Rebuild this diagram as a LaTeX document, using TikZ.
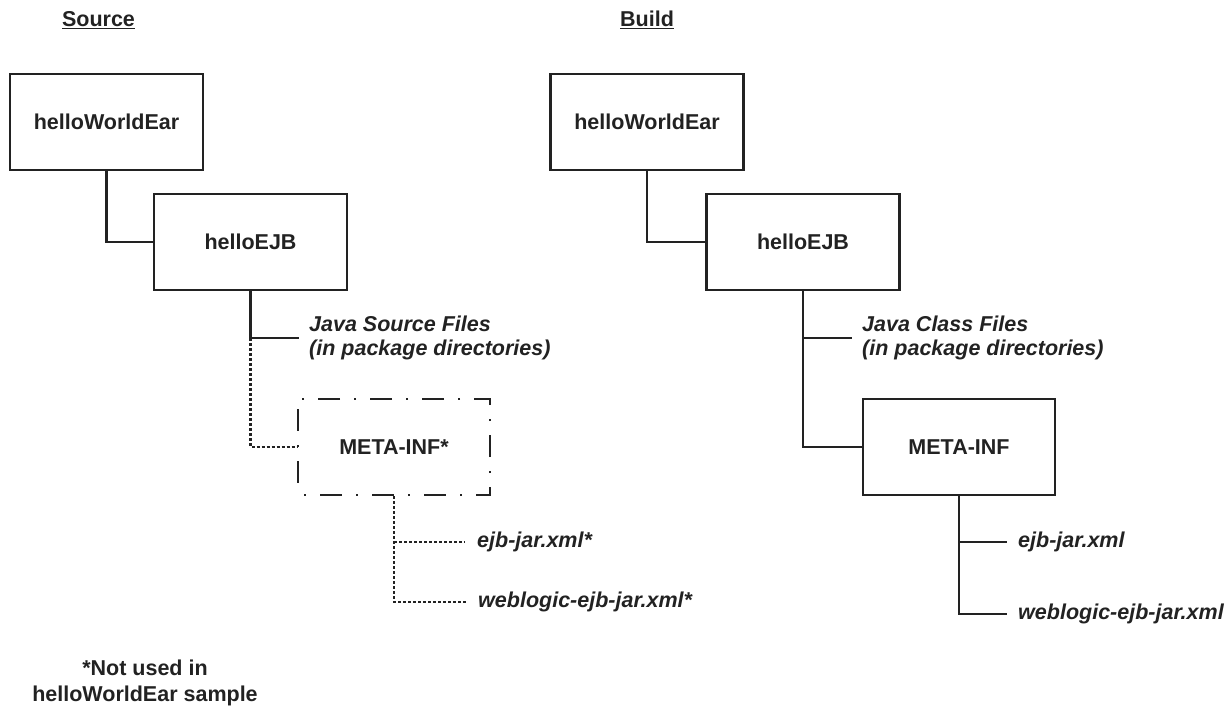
\documentclass[tikz,border=0pt]{standalone}
\usepackage{fontspec}
\setmainfont{Liberation Sans}
\definecolor{ink}{HTML}{222222}
\begin{document}
\begin{tikzpicture}[x=1pt,y=-1pt,
  every node/.style={text=ink,font=\fontsize{21.5}{24}\selectfont\bfseries},
  folder/.style={draw=ink,line width=2.8pt,rectangle,minimum width=193pt,minimum height=96pt,inner sep=0pt},
  dashfolder/.style={draw=ink,line width=2.8pt,rectangle,minimum width=192pt,minimum height=96pt,inner sep=0pt,
     dash pattern=on 22pt off 14pt on 2pt off 14pt, dash phase=30pt},
  leaf/.style={inner sep=0pt,anchor=west,align=left,font=\fontsize{21.5}{24}\selectfont\bfseries\itshape},
  link/.style={draw=ink,line width=2.6pt},
  dotlink/.style={draw=ink,line width=2.6pt,dash pattern=on 3pt off 2pt},
  title/.style={inner sep=0pt,font=\fontsize{21.5}{24}\selectfont\bfseries}
]
\useasboundingbox (0,0) rectangle (1228,706);

% titles
\node[title] (tsrc) at (98.5,20) {\underline{Source}};
\node[title] (tbld) at (647,20) {\underline{Build}};

% source tree
\node[folder] (swe) at (106.5,122) {helloWorldEar};
\node[folder] (sejb) at (250.5,242) {helloEJB};
\node[dashfolder] (smeta) at (394,447) {META-INF*};
\node[leaf] (sjava) at (309,338) {Java Source Files\\(in package directories)};
\node[leaf] (sejbx) at (477,542) {ejb-jar.xml*};
\node[leaf] (swlx) at (478,602) {weblogic-ejb-jar.xml*};

\coordinate (sbr) at (sejb.south |- sjava.west);
\draw[link] (swe.south) |- (sejb.west);
\draw[link] (sejb.south) -- (sbr);
\draw[link] (sbr) -- ([xshift=-10pt]sjava.west);
\draw[dotlink] (sbr) |- (smeta.west);
\draw[dotlink] (smeta.south) |- ([xshift=-12pt]swlx.west);
\draw[dotlink] (smeta.south |- sejbx.west) -- ([xshift=-12pt]sejbx.west);

% build tree
\node[folder] (bwe) at (647,122) {helloWorldEar};
\node[folder] (bejb) at (803,242) {helloEJB};
\node[folder,minimum width=192pt] (bmeta) at (959,447) {META-INF};
\node[leaf] (bjava) at (862,338) {Java Class Files\\(in package directories)};
\node[leaf] (bejbx) at (1018,542) {ejb-jar.xml};
\node[leaf] (bwlx) at (1018,614) {weblogic-ejb-jar.xml};

\draw[link] (bwe.south) |- (bejb.west);
\draw[link] (bejb.south) |- (bmeta.west);
\draw[link] (bejb.south |- bjava.west) -- ([xshift=-10pt]bjava.west);
\draw[link] (bmeta.south) |- ([xshift=-11pt]bwlx.west);
\draw[link] (bmeta.south |- bejbx.west) -- ([xshift=-11pt]bejbx.west);

% footnote
\node[inner sep=0pt,align=center,font=\fontsize{21.5}{26}\selectfont\bfseries] (note) at (145,683) {*Not used in\\helloWorldEar sample};
\end{tikzpicture}
\end{document}
